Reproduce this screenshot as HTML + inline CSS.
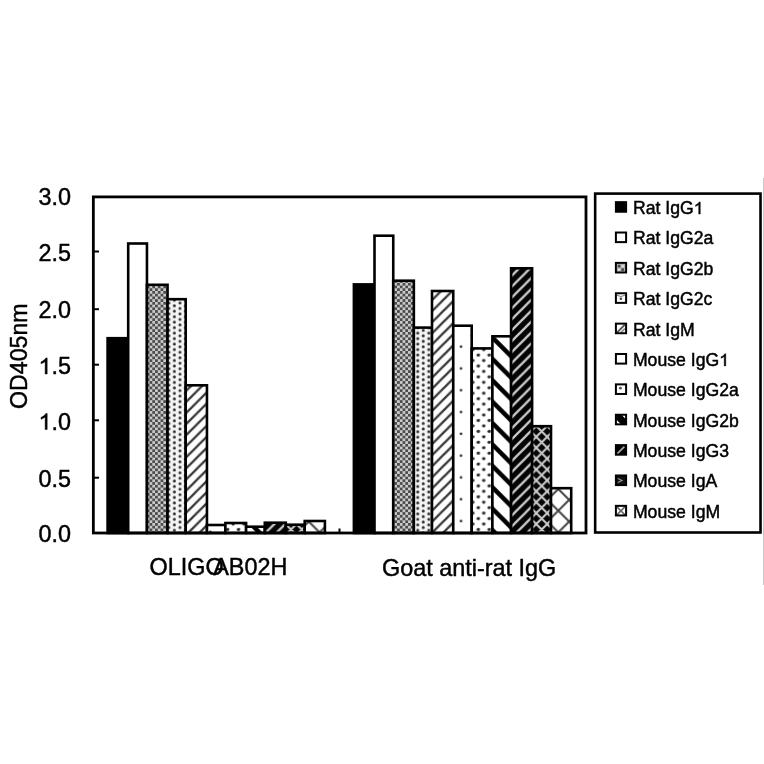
<!DOCTYPE html>
<html><head><meta charset="utf-8"><style>
html,body{margin:0;padding:0;background:#fff;width:764px;height:764px;overflow:hidden}
svg{display:block;will-change:transform}
text{font-family:"Liberation Sans",sans-serif;fill:#000;stroke:#000;stroke-width:0.45px}
.tk{font-size:23.4px}
.lg{font-size:17.65px}
</style></head><body>
<svg width="764" height="764" viewBox="0 0 764 764">
<defs>
<pattern id="p3" patternUnits="userSpaceOnUse" x="1.05" y="-1.1" width="5.5" height="5.46">
  <rect width="5.5" height="5.46" fill="#cacaca"/>
  <rect width="2.75" height="2.73" fill="#4c4c4c"/><rect x="2.75" y="2.73" width="2.75" height="2.73" fill="#4c4c4c"/>
</pattern>
<pattern id="p4" patternUnits="userSpaceOnUse" width="11.06" height="5.477">
  <rect width="11.06" height="5.477" fill="#f4f4f4"/>
  <circle cx="8.5" cy="4.48" r="1.5" fill="#333"/><circle cx="8.5" cy="-1" r="1.5" fill="#333"/>
  <circle cx="2.97" cy="1.74" r="1.5" fill="#333"/><circle cx="2.97" cy="7.22" r="1.5" fill="#333"/>
</pattern>
<pattern id="p5" patternUnits="userSpaceOnUse" x="0.85" y="0" width="11.08" height="11.08">
  <rect width="11.08" height="11.08" fill="#fff"/>
  <path d="M-2.77,2.77 L2.77,-2.77 M0,11.08 L11.08,0 M8.31,13.85 L13.85,8.31" stroke="#3c3c3c" stroke-width="2.4"/>
</pattern>
<pattern id="p6" patternUnits="userSpaceOnUse" width="21.8" height="21.8">
  <rect width="21.8" height="21.8" fill="#fff"/>
  <circle cx="3.2" cy="19.6" r="1.35" fill="#333"/><circle cx="3.2" cy="-2.2" r="1.35" fill="#333"/>
  <circle cx="14.1" cy="8.7" r="1.35" fill="#333"/>
</pattern>
<pattern id="p7" patternUnits="userSpaceOnUse" width="10.9" height="10.9">
  <rect width="10.9" height="10.9" fill="#fff"/>
  <circle cx="9.6" cy="6.3" r="1.7" fill="#2a2a2a"/><circle cx="-1.3" cy="6.3" r="1.7" fill="#2a2a2a"/>
  <circle cx="4.15" cy="0.85" r="1.7" fill="#2a2a2a"/><circle cx="4.15" cy="11.75" r="1.7" fill="#2a2a2a"/>
</pattern>
<pattern id="p8" patternUnits="userSpaceOnUse" x="0" y="16.3" width="21.4" height="21.4">
  <rect width="21.4" height="21.4" fill="#fff"/>
  <path d="M-5,-5 L26.4,26.4 M-5,16.4 L5,26.4 M16.4,-5 L26.4,5" stroke="#000" stroke-width="4.5"/>
</pattern>
<pattern id="p9" patternUnits="userSpaceOnUse" x="2.7" y="0" width="10.9" height="10.9">
  <rect width="10.9" height="10.9" fill="#030303"/>
  <path d="M-2.725,2.725 L2.725,-2.725 M0,10.9 L10.9,0 M8.175,13.625 L13.625,8.175" stroke="#c8c8c8" stroke-width="2.3"/>
</pattern>
<pattern id="p10" patternUnits="userSpaceOnUse" x="2.15" y="0.85" width="10.9" height="10.9">
  <rect width="10.9" height="10.9" fill="#050505"/>
  <path d="M0,0 L10.9,10.9 M0,10.9 L10.9,0 M-5.45,5.45 L0,10.9 M5.45,-5.45 L16.35,5.45 M-5.45,5.45 L5.45,-5.45 M5.45,16.35 L16.35,5.45" stroke="#cdcdcd" stroke-width="2.0"/>
</pattern>
<pattern id="p11" patternUnits="userSpaceOnUse" x="4.95" y="0.75" width="21.7" height="21.7">
  <rect width="21.7" height="21.7" fill="#fff"/>
  <path d="M0,0 L21.7,21.7 M0,21.7 L21.7,0" stroke="#444" stroke-width="2"/>
</pattern>
</defs>
<rect width="764" height="764" fill="#fff"/>
<g>
<line x1="763.5" y1="178" x2="763.5" y2="585" stroke="#c8c8c8" stroke-width="1"/>
<rect x="107.60" y="338.20" width="20.60" height="194.80" fill="#000" stroke="#000" stroke-width="2.6"/>
<rect x="128.20" y="243.50" width="18.75" height="289.50" fill="#fff" stroke="#000" stroke-width="2.6"/>
<rect x="146.95" y="284.80" width="20.60" height="248.20" fill="url(#p3)" stroke="#000" stroke-width="2.6"/>
<rect x="167.55" y="299.20" width="18.15" height="233.80" fill="url(#p4)" stroke="#000" stroke-width="2.6"/>
<rect x="185.70" y="385.30" width="21.25" height="147.70" fill="url(#p5)" stroke="#000" stroke-width="2.6"/>
<rect x="206.95" y="525.00" width="18.45" height="8.00" fill="url(#p6)" stroke="#000" stroke-width="2.6"/>
<rect x="225.40" y="523.00" width="20.70" height="10.00" fill="url(#p7)" stroke="#000" stroke-width="2.6"/>
<rect x="246.10" y="526.70" width="18.70" height="6.30" fill="url(#p8)" stroke="#000" stroke-width="2.6"/>
<rect x="264.80" y="522.70" width="21.00" height="10.30" fill="url(#p9)" stroke="#000" stroke-width="2.6"/>
<rect x="285.80" y="524.70" width="18.90" height="8.30" fill="url(#p10)" stroke="#000" stroke-width="2.6"/>
<rect x="304.70" y="521.00" width="20.20" height="12.00" fill="url(#p11)" stroke="#000" stroke-width="2.6"/>
<rect x="353.90" y="284.40" width="20.60" height="248.60" fill="#000" stroke="#000" stroke-width="2.6"/>
<rect x="374.50" y="235.70" width="18.75" height="297.30" fill="#fff" stroke="#000" stroke-width="2.6"/>
<rect x="393.25" y="280.70" width="20.60" height="252.30" fill="url(#p3)" stroke="#000" stroke-width="2.6"/>
<rect x="413.85" y="327.60" width="18.15" height="205.40" fill="url(#p4)" stroke="#000" stroke-width="2.6"/>
<rect x="432.00" y="291.00" width="21.25" height="242.00" fill="url(#p5)" stroke="#000" stroke-width="2.6"/>
<rect x="453.25" y="325.70" width="18.45" height="207.30" fill="url(#p6)" stroke="#000" stroke-width="2.6"/>
<rect x="471.70" y="348.40" width="20.70" height="184.60" fill="url(#p7)" stroke="#000" stroke-width="2.6"/>
<rect x="492.40" y="336.30" width="18.70" height="196.70" fill="url(#p8)" stroke="#000" stroke-width="2.6"/>
<rect x="511.10" y="268.30" width="21.00" height="264.70" fill="url(#p9)" stroke="#000" stroke-width="2.6"/>
<rect x="532.10" y="426.20" width="18.90" height="106.80" fill="url(#p10)" stroke="#000" stroke-width="2.6"/>
<rect x="551.00" y="488.20" width="20.20" height="44.80" fill="url(#p11)" stroke="#000" stroke-width="2.6"/>
<rect x="93.35" y="196.9" width="492.65" height="336.1" fill="none" stroke="#000" stroke-width="2.8"/>
<line x1="93" y1="251.5" x2="99" y2="251.5" stroke="#000" stroke-width="2"/><line x1="93" y1="309.2" x2="99" y2="309.2" stroke="#000" stroke-width="2"/><line x1="93" y1="364.7" x2="99" y2="364.7" stroke="#000" stroke-width="2"/><line x1="93" y1="420.3" x2="99" y2="420.3" stroke="#000" stroke-width="2"/><line x1="93" y1="477.7" x2="99" y2="477.7" stroke="#000" stroke-width="2"/>
<line x1="339.5" y1="528.5" x2="339.5" y2="533" stroke="#000" stroke-width="2"/>
<g class="tk">
<text x="71" y="205.0" text-anchor="end">3.0</text><text x="71" y="260.6" text-anchor="end">2.5</text><text x="71" y="318.2" text-anchor="end">2.0</text><text x="71" y="374.0" text-anchor="end">.5</text><path d="M763,0 L583,0 L583,1098 Q518,1039 412,979 Q307,920 223,890 L223,1057 Q375,1125 489,1221 Q603,1318 650,1409 L763,1409 Z" transform="translate(38.470,374.000) scale(0.011426,-0.011426)" fill="#000" stroke="#000" stroke-width="0.45" vector-effect="non-scaling-stroke"/><text x="71" y="429.5" text-anchor="end">.0</text><path d="M763,0 L583,0 L583,1098 Q518,1039 412,979 Q307,920 223,890 L223,1057 Q375,1125 489,1221 Q603,1318 650,1409 L763,1409 Z" transform="translate(38.470,429.500) scale(0.011426,-0.011426)" fill="#000" stroke="#000" stroke-width="0.45" vector-effect="non-scaling-stroke"/><text x="71" y="487.1" text-anchor="end">0.5</text><text x="71" y="542.3" text-anchor="end">0.0</text>
<text x="149.5" y="575.2">OLIGO</text>
<text x="213.2" y="575.2">AB02H</text>
<text x="382" y="575.5">Goat anti-rat IgG</text>
<text transform="translate(27.4,408.9) rotate(-90)" style="font-size:23.15px">OD405nm</text>
</g>
<rect x="595.16" y="193.6" width="165.35" height="338.9" fill="none" stroke="#000" stroke-width="2.6"/>
<g transform="translate(615.9,202.15)"><clipPath id="c0"><rect width="10.2" height="9.6"/></clipPath><rect width="10.2" height="9.6" fill="#fff"/><g clip-path="url(#c0)"><rect x="0" y="0" width="10" height="10" fill="#000"/></g><rect width="10.2" height="9.6" fill="none" stroke="#000" stroke-width="2"/></g><text x="632.9" y="214.05" class="lg">Rat IgG</text><path d="M763,0 L583,0 L583,1098 Q518,1039 412,979 Q307,920 223,890 L223,1057 Q375,1125 489,1221 Q603,1318 650,1409 L763,1409 Z" transform="translate(693.697,214.050) scale(0.008618,-0.008618)" fill="#000" stroke="#000" stroke-width="0.45" vector-effect="non-scaling-stroke"/><g transform="translate(615.9,232.52)"><clipPath id="c1"><rect width="10.2" height="9.6"/></clipPath><rect width="10.2" height="9.6" fill="#fff"/><g clip-path="url(#c1)"></g><rect width="10.2" height="9.6" fill="none" stroke="#000" stroke-width="2"/></g><text x="632.9" y="244.42" class="lg">Rat IgG2a</text><g transform="translate(615.9,262.89)"><clipPath id="c2"><rect width="10.2" height="9.6"/></clipPath><rect width="10.2" height="9.6" fill="#fff"/><g clip-path="url(#c2)"><rect x="1" y="1" width="8" height="8" fill="#aaa"/><rect x="2" y="2" width="2.5" height="2.5" fill="#444"/><rect x="5.5" y="5.5" width="2.5" height="2.5" fill="#444"/><rect x="5.5" y="2" width="2.5" height="2.5" fill="#ddd"/><rect x="2" y="5.5" width="2.5" height="2.5" fill="#ddd"/></g><rect width="10.2" height="9.6" fill="none" stroke="#000" stroke-width="2"/></g><text x="632.9" y="274.79" class="lg">Rat IgG2b</text><g transform="translate(615.9,293.26)"><clipPath id="c3"><rect width="10.2" height="9.6"/></clipPath><rect width="10.2" height="9.6" fill="#fff"/><g clip-path="url(#c3)"><circle cx="5" cy="5.5" r="1.3" fill="#444"/><path d="M1,2 Q5,4.5 9,2" stroke="#777" stroke-width="1" fill="none"/></g><rect width="10.2" height="9.6" fill="none" stroke="#000" stroke-width="2"/></g><text x="632.9" y="305.16" class="lg">Rat IgG2c</text><g transform="translate(615.9,323.63)"><clipPath id="c4"><rect width="10.2" height="9.6"/></clipPath><rect width="10.2" height="9.6" fill="#fff"/><g clip-path="url(#c4)"><path d="M1,9 L9,1" stroke="#555" stroke-width="2"/><path d="M5,9 L9,5" stroke="#888" stroke-width="1.5"/></g><rect width="10.2" height="9.6" fill="none" stroke="#000" stroke-width="2"/></g><text x="632.9" y="335.53" class="lg">Rat IgM</text><g transform="translate(615.9,354.00)"><clipPath id="c5"><rect width="10.2" height="9.6"/></clipPath><rect width="10.2" height="9.6" fill="#fff"/><g clip-path="url(#c5)"></g><rect width="10.2" height="9.6" fill="none" stroke="#000" stroke-width="2"/></g><text x="632.9" y="365.90" class="lg">Mouse IgG</text><path d="M763,0 L583,0 L583,1098 Q518,1039 412,979 Q307,920 223,890 L223,1057 Q375,1125 489,1221 Q603,1318 650,1409 L763,1409 Z" transform="translate(719.197,365.900) scale(0.008618,-0.008618)" fill="#000" stroke="#000" stroke-width="0.45" vector-effect="non-scaling-stroke"/><g transform="translate(615.9,384.37)"><clipPath id="c6"><rect width="10.2" height="9.6"/></clipPath><rect width="10.2" height="9.6" fill="#fff"/><g clip-path="url(#c6)"><circle cx="4.5" cy="3.8" r="1.4" fill="#555"/></g><rect width="10.2" height="9.6" fill="none" stroke="#000" stroke-width="2"/></g><text x="632.9" y="396.27" class="lg">Mouse IgG2a</text><g transform="translate(615.9,414.74)"><clipPath id="c7"><rect width="10.2" height="9.6"/></clipPath><rect width="10.2" height="9.6" fill="#fff"/><g clip-path="url(#c7)"><path d="M0,2 L8,10 M0,-3 L13,10" stroke="#000" stroke-width="3.5"/></g><rect width="10.2" height="9.6" fill="none" stroke="#000" stroke-width="2"/></g><text x="632.9" y="426.64" class="lg">Mouse IgG2b</text><g transform="translate(615.9,445.11)"><clipPath id="c8"><rect width="10.2" height="9.6"/></clipPath><rect width="10.2" height="9.6" fill="#fff"/><g clip-path="url(#c8)"><rect x="0" y="0" width="10" height="10" fill="#000"/><path d="M1.5,8.5 L8.5,1.5" stroke="#aaa" stroke-width="1.6"/></g><rect width="10.2" height="9.6" fill="none" stroke="#000" stroke-width="2"/></g><text x="632.9" y="457.01" class="lg">Mouse IgG3</text><g transform="translate(615.9,475.48)"><clipPath id="c9"><rect width="10.2" height="9.6"/></clipPath><rect width="10.2" height="9.6" fill="#fff"/><g clip-path="url(#c9)"><rect x="0" y="0" width="10" height="10" fill="#111"/><path d="M2,3 L6,5 L2,7" stroke="#999" stroke-width="1.3" fill="none"/></g><rect width="10.2" height="9.6" fill="none" stroke="#000" stroke-width="2"/></g><text x="632.9" y="487.38" class="lg">Mouse IgA</text><g transform="translate(615.9,505.85)"><clipPath id="c10"><rect width="10.2" height="9.6"/></clipPath><rect width="10.2" height="9.6" fill="#fff"/><g clip-path="url(#c10)"><path d="M0,0 L10,10 M0,10 L10,0" stroke="#666" stroke-width="1.6"/></g><rect width="10.2" height="9.6" fill="none" stroke="#000" stroke-width="2"/></g><text x="632.9" y="517.75" class="lg">Mouse IgM</text>
</g>
</svg>
</body></html>
